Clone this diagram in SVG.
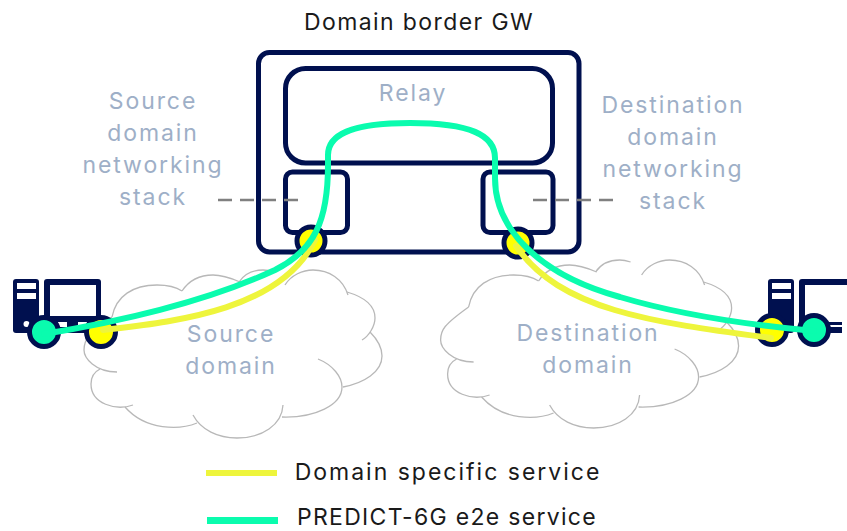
<svg xmlns="http://www.w3.org/2000/svg" width="847" height="531" viewBox="0 0 847 531">
<style>
text{font-family:Inter,"Liberation Sans",sans-serif;font-size:23px;text-anchor:middle}
.l{fill:#9eafc7;letter-spacing:1.9px}
.k{fill:#1a1a1a;letter-spacing:1.4px}
.box{fill:none;stroke:#00104f;stroke-width:5}
.dash{fill:none;stroke:#808080;stroke-width:2.5;stroke-dasharray:14 8}
.cl{fill:none;stroke:#b8b8b8;stroke-width:1.3}
.dev{fill:#00104f}
.hole{fill:#fff}
.g{fill:#0afcae;stroke:#00104f;stroke-width:5}
.y{fill:#ffff00;stroke:#00104f;stroke-width:5}
.gl{fill:none;stroke:#0afcae;stroke-width:6;stroke-linecap:round}
.yl{fill:none;stroke:#eef53c;stroke-width:6;stroke-linecap:round}
</style>
<defs>
<g id="cloud" class="cl">
<path d="M112 317C116 296 133 285 157 285C167 285 176 287 182 291"/>
<path d="M182 291C190 279 202 275 213 275C224 275 233 279 240 282"/>
<path d="M239 282C245 273 255 270 263 270C268 270 271 271 274 272"/>
<path d="M285 285C291 275 303 270 313 270C329 270 343 279 348 295"/>
<path d="M347 292C364 297 375 305 375 318C375 326 369 336 362 340"/>
<path d="M370 332C378 340 382 348 382 356C382 372 364 383 343 387"/>
<path d="M318 359C333 365 342 377 342 387C342 405 315 418 282 417"/>
<path d="M283 405C282 425 262 438 237 438C218 438 201 430 193 415"/>
<path d="M197 423C180 430 146 431 125 407"/>
<path d="M133 405C116 411 91 404 91 384C91 378 94 372 100 369"/>
<path d="M117 372C95 372 84 358 84 350C84 340 87 335 112 317"/>
</g>
</defs>
<g id="source-cloud"><use href="#cloud"/></g>
<g id="destination-cloud"><use href="#cloud" x="356.6" y="-10"/></g>
<g id="gateway"><rect class="box" x="258.5" y="52.5" width="320.5" height="199.5" rx="11"/></g>
<g id="relay"><rect class="box" x="285.5" y="68.5" width="267" height="94.5" rx="20"/></g>
<g id="source-stack"><rect class="box" x="285.5" y="172" width="62" height="60.5" rx="7"/></g>
<g id="destination-stack"><rect class="box" x="483" y="172" width="70" height="60.5" rx="7"/></g>
<g id="source-host">
<rect class="dev" x="13" y="279" width="26" height="54" rx="3"/>
<rect class="hole" x="17" y="283" width="19" height="6"/>
<rect class="hole" x="17" y="293" width="19" height="6"/>
<circle class="hole" cx="26.5" cy="324" r="3"/>
<rect class="dev" x="44" y="279" width="57" height="54" rx="3"/>
<rect class="hole" x="50" y="285" width="46" height="31"/>
<rect class="hole" x="58" y="322" width="9" height="5"/>
<rect class="hole" x="78" y="322" width="9" height="5"/>
<circle class="g" cx="44" cy="332" r="14.5"/>
<circle class="y" cx="101" cy="332" r="14.5"/>
</g>
<g id="destination-host">
<rect class="dev" x="768" y="279" width="26" height="54" rx="3"/>
<rect class="hole" x="772" y="283" width="19" height="6"/>
<rect class="hole" x="772" y="293" width="19" height="6"/>
<path class="dev" d="M847 279H802a3 3 0 0 0-3 3V325H820V322H842V325H826V327H842V333H826V320H805V285H847Z"/>
<circle class="y" cx="772" cy="330" r="14.5"/>
<circle class="g" cx="814" cy="330" r="14.5"/>
</g>
<g id="border-ports">
<circle class="y" cx="311" cy="241" r="14"/>
<circle class="y" cx="518" cy="243" r="14"/>
</g>
<g id="connectors">
<path class="dash" d="M218 200H299"/>
<path class="dash" d="M533 200H615"/>
<path class="yl" d="M103 330C170 322 280 312 315 240"/>
<path class="yl" d="M516 246C560 310 650 322 771 338"/>
<path class="gl" d="M44 334C130 320 210 300 275 270C315 250 328 220 328 165V155C328 135 350 123 410 123C470 123 495 135 495 158V178C495 230 540 275 620 297C680 315 750 325 814 331"/>
<path class="yl" style="stroke-linecap:butt" d="M206 473H277"/>
<path class="gl" style="stroke-linecap:butt;stroke-width:7" d="M207 520.5H278"/>
</g>
<g id="labels">
<text class="k" x="419" y="30">Domain border GW</text>
<text class="l" x="413" y="101">Relay</text>
<text class="l" x="153" y="109">Source</text>
<text class="l" x="153" y="141">domain</text>
<text class="l" x="153" y="173">networking</text>
<text class="l" x="153" y="205">stack</text>
<text class="l" x="673" y="113">Destination</text>
<text class="l" x="673" y="145">domain</text>
<text class="l" x="673" y="177">networking</text>
<text class="l" x="673" y="209">stack</text>
<text class="l" x="231" y="342">Source</text>
<text class="l" x="231" y="374">domain</text>
<text class="l" x="588" y="341">Destination</text>
<text class="l" x="588" y="373">domain</text>
<text class="k" style="letter-spacing:2px" x="448" y="480">Domain specific service</text>
<text class="k" style="letter-spacing:1.3px" x="447" y="525">PREDICT-6G e2e service</text>
</g>
</svg>
